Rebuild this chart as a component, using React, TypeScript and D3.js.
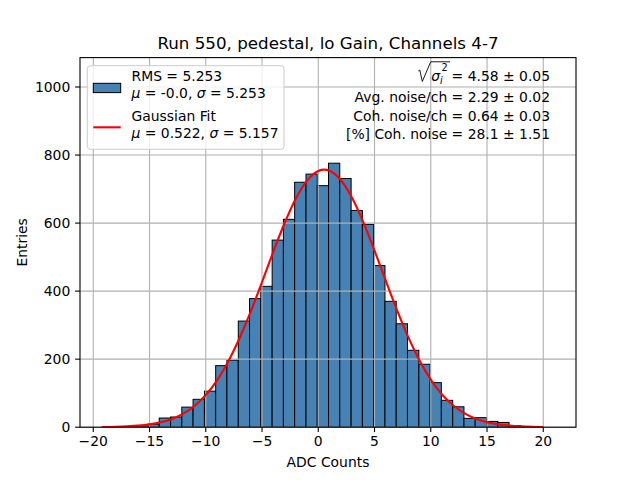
import React from 'react';
import * as d3 from 'd3';

// histogram bin edges (ADC counts) and entries per bin
const binEdges = [
  -19.15, -18.15, -17.14, -16.14, -15.14, -14.14, -13.13, -12.13, -11.13, -10.12,
  -9.12, -8.12, -7.11, -6.11, -5.11, -4.1, -3.1, -2.1, -1.09, -0.09,
  0.91, 1.91, 2.92, 3.92, 4.92, 5.93, 6.93, 7.93, 8.94, 9.94,
  10.94, 11.95, 12.95, 13.95, 14.96, 15.96, 16.96, 17.97, 18.97, 19.97, 20.97,
];
const binCounts = [
  0, 1, 2, 4, 9, 27, 30, 59, 82, 106,
  181, 197, 312, 378, 414, 550, 611, 720, 744, 710,
  776, 731, 637, 596, 475, 370, 304, 226, 185, 131,
  79, 60, 26, 28, 17, 14, 5, 2, 1, 0,
];

// gaussian fit curve, sampled
const fitX = [
  -19.25, -18, -17, -16, -15, -14, -13, -12, -11, -10, -9, -8, -7, -6, -5, -4, -3, -2, -1,
  0, 0.52, 1, 2, 3, 4, 5, 6, 7, 8, 9, 10, 11, 12, 13, 14, 15, 16, 17, 18, 19, 20,
];
const fitY = [
  0.5, 1.2, 2.4, 4.5, 8.2, 14.4, 24.3, 39.7, 62.4, 94.5, 137.6, 193.3, 261.3, 340.2, 426.7,
  515.4, 599.5, 671.7, 724.8, 753.1, 757, 753.7, 726.6, 674.5, 603.0, 519.2, 430.6, 344.0,
  264.6, 196.0, 139.8, 96.1, 63.6, 40.6, 24.9, 14.7, 8.4, 4.6, 2.4, 1.2, 0.6,
];

const xTicks = [-20, -15, -10, -5, 0, 5, 10, 15, 20];
const yTicks = [0, 200, 400, 600, 800, 1000];

const title = 'Run 550, pedestal, lo Gain, Channels 4-7';
const legendRows = [
  ['RMS = 5.253', 'μ = -0.0, σ = 5.253'],
  ['Gaussian Fit', 'μ = 0.522, σ = 5.157'],
];
const noiseLines = [
  '= 4.58 ± 0.05',
  'Avg. noise/ch = 2.29 ± 0.02',
  'Coh. noise/ch = 0.64 ± 0.03',
  '[%] Coh. noise = 28.1 ± 1.51',
];

const W = 640;
const H = 480;
const margin = { left: 80, right: 64, top: 57.6, bottom: 52.8 };
const FONT = 'DejaVu Sans, sans-serif';

const App: React.FC = () => {
  const x = d3.scaleLinear().domain([-21.18, 22.91]).range([margin.left, W - margin.right]);
  const y = d3.scaleLinear().domain([0, 1086.4]).range([H - margin.bottom, margin.top]);

  const line = d3
    .line<number>()
    .x((_, i) => x(fitX[i]))
    .y((d) => y(d))
    .curve(d3.curveMonotoneX);

  const x0 = margin.left;
  const x1 = W - margin.right;
  const y0 = H - margin.bottom;
  const y1 = margin.top;
  const fmt = (v: number) => (v < 0 ? '\u2212' + Math.abs(v) : String(v));
  const noiseY = [81, 101.5, 121, 138.5];

  return (
    <div style={{ position: 'absolute', left: 0, top: 0 }}>
      <svg width={W} height={H} fontFamily={FONT}>
        <rect width={W} height={H} fill="#fff" />
        <defs>
          <clipPath id="axclip">
            <rect x={x0} y={y1} width={x1 - x0} height={y0 - y1} />
          </clipPath>
        </defs>

        {/* bars */}
        <g clipPath="url(#axclip)">
          {binCounts.map((c, i) => (
            <rect
              key={i}
              x={x(binEdges[i])}
              y={y(c)}
              width={x(binEdges[i + 1]) - x(binEdges[i])}
              height={y(0) - y(c)}
              fill="#4682b4"
              stroke="#000"
              strokeWidth={1}
            />
          ))}
        </g>

        {/* grid */}
        <g stroke="#b0b0b0" strokeWidth={1.1}>
          {xTicks.map((t) => (
            <line key={'gx' + t} x1={x(t)} x2={x(t)} y1={y0} y2={y1} />
          ))}
          {yTicks.map((t) => (
            <line key={'gy' + t} x1={x0} x2={x1} y1={y(t)} y2={y(t)} />
          ))}
        </g>

        {/* fit */}
        <path d={line(fitY) || ''} fill="none" stroke="red" strokeWidth={2.1} clipPath="url(#axclip)" />

        {/* spines */}
        <rect x={x0} y={y1} width={x1 - x0} height={y0 - y1} fill="none" stroke="#000" strokeWidth={1.1} />

        {/* x axis */}
        {xTicks.map((t) => (
          <g key={'tx' + t}>
            <line x1={x(t)} x2={x(t)} y1={y0} y2={y0 + 4.9} stroke="#000" strokeWidth={1.1} />
            <text x={x(t)} y={y0 + 19} fontSize={13.9} textAnchor="middle">
              {fmt(t)}
            </text>
          </g>
        ))}
        {yTicks.map((t) => (
          <g key={'ty' + t}>
            <line x1={x0 - 4.9} x2={x0} y1={y(t)} y2={y(t)} stroke="#000" strokeWidth={1.1} />
            <text x={x0 - 9.7} y={y(t) + 5} fontSize={13.9} textAnchor="end">
              {t}
            </text>
          </g>
        ))}
        <text x={(x0 + x1) / 2} y={467} fontSize={13.9} textAnchor="middle">
          ADC Counts
        </text>
        <text transform={`translate(27,${(y0 + y1) / 2}) rotate(-90)`} fontSize={13.9} textAnchor="middle">
          Entries
        </text>
        <text x={(x0 + x1) / 2} y={49.3} fontSize={16.7} textAnchor="middle">
          {title}
        </text>

        {/* legend */}
        <rect x={87.3} y={65.7} width={196.7} height={83.6} rx={3} fill="#fff" fillOpacity={0.8} stroke="#cccccc" strokeWidth={1} />
        <rect x={93.3} y={83.3} width={27.4} height={9.3} fill="#4682b4" stroke="#000" strokeWidth={1} />
        <line x1={93.3} x2={120.7} y1={127.3} y2={127.3} stroke="red" strokeWidth={2.1} />
        {legendRows.map((row, i) => (
          <g key={'lg' + i} fontSize={13.9}>
            <text x={131.5} y={81 + i * 40}>{row[0]}</text>
            <text x={131.5} y={98.3 + i * 40}>
              {row[1].split(/([μσ])/).map((s, j) =>
                s === 'μ' || s === 'σ' ? (
                  <tspan key={j} fontStyle="italic">{s}</tspan>
                ) : (
                  <tspan key={j}>{s}</tspan>
                )
              )}
            </text>
          </g>
        ))}

        {/* noise annotation */}
        <path d="M418.3,71 L419.8,70 L422.3,81.5 L430.7,61.8 L450,61.8" fill="none" stroke="#000" strokeWidth={0.9} />
        <text x={431.3} y={81} fontSize={13.9} fontStyle="italic">σ</text>
        <text x={440} y={83.5} fontSize={9.7} fontStyle="italic">i</text>
        <text x={441.5} y={70.5} fontSize={9.7}>2</text>
        {noiseLines.map((s, i) => (
          <text key={'nl' + i} x={550} y={noiseY[i]} fontSize={13.9} textAnchor="end">
            {s}
          </text>
        ))}
      </svg>
    </div>
  );
};

export default App;
